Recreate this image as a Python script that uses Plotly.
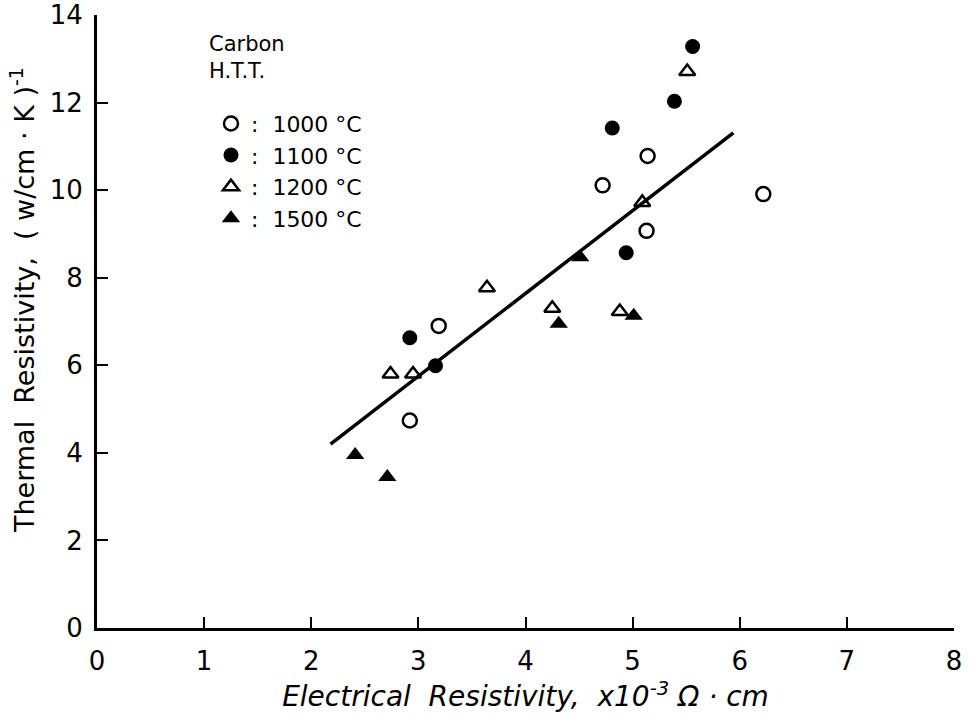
import plotly.graph_objects as go

# Data
x_1000 = [3.19, 2.92, 4.72, 5.14, 5.13, 6.22]
y_1000 = [6.90, 4.74, 10.11, 10.78, 9.07, 9.91]

x_1100 = [2.92, 3.16, 4.81, 4.94, 5.39, 5.56]
y_1100 = [6.63, 5.99, 11.42, 8.57, 12.03, 13.28]

x_1200 = [2.74, 2.95, 3.64, 4.25, 4.88, 5.09, 5.51]
y_1200 = [5.80, 5.80, 7.77, 7.30, 7.23, 9.72, 12.71]

x_1500 = [2.41, 2.71, 4.31, 4.51, 5.01]
y_1500 = [3.95, 3.45, 6.95, 8.47, 7.13]

fit_x = [2.18, 5.94]
fit_y = [4.20, 11.31]

series_names = [":  1000 °C", ":  1100 °C", ":  1200 °C", ":  1500 °C"]
x_ticks = [0, 1, 2, 3, 4, 5, 6, 7, 8]
y_ticks = [0, 2, 4, 6, 8, 10, 12, 14]

FONT = "DejaVu Sans"
fig = go.Figure()

fig.add_trace(go.Scatter(x=fit_x, y=fit_y, mode="lines",
                         line=dict(color="black", width=3.5), showlegend=False))

fig.add_trace(go.Scatter(x=x_1000, y=y_1000, mode="markers", name=series_names[0],
                         marker=dict(symbol="circle-open", size=14, color="black",
                                     line=dict(width=2.5, color="black"))))
fig.add_trace(go.Scatter(x=x_1100, y=y_1100, mode="markers", name=series_names[1],
                         marker=dict(symbol="circle", size=15, color="black")))
fig.add_trace(go.Scatter(x=x_1200, y=y_1200, mode="markers", name=series_names[2],
                         marker=dict(symbol="triangle-up-open", size=14, color="black",
                                     line=dict(width=2.5, color="black"))))
fig.add_trace(go.Scatter(x=x_1500, y=y_1500, mode="markers", name=series_names[3],
                         marker=dict(symbol="triangle-up", size=16, color="black")))

fig.add_annotation(xref="paper", yref="paper", x=0.128, y=0.9755,
                   xanchor="left", yanchor="top", align="left", showarrow=False,
                   text="Carbon<br>H.T.T.", font=dict(family=FONT, size=21, color="black"))

# y-axis title as rotated annotation
fig.add_annotation(xref="paper", yref="paper", x=-0.0875, y=0.535,
                   xanchor="center", yanchor="middle", showarrow=False, textangle=-90,
                   text="Thermal  Resistivity,  ( w/cm · K )<sup>-1</sup>",
                   font=dict(family=FONT, size=27, color="black"))

fig.update_layout(
    width=973, height=727,
    margin=dict(l=97, r=19, t=15, b=99),
    paper_bgcolor="white", plot_bgcolor="white",
    font=dict(family=FONT, size=22, color="black"),
    showlegend=True,
    legend=dict(x=0.133, y=0.857, xanchor="left", yanchor="top",
                bgcolor="rgba(0,0,0,0)", borderwidth=0,
                font=dict(size=22, family=FONT),
                itemwidth=30, tracegroupgap=0),
    xaxis=dict(range=[0, 8], tickvals=x_ticks, automargin=False,
               showline=True, linecolor="black", linewidth=3,
               ticks="inside", ticklen=11, tickwidth=2, tickcolor="black",
               showgrid=False, zeroline=False, tickfont=dict(size=26),
               ticklabelstandoff=8,
               title=dict(text="<i>Electrical  Resistivity,  x10<sup>-3</sup> Ω · cm</i>",
                          font=dict(size=28), standoff=12)),
    yaxis=dict(range=[0, 14], tickvals=y_ticks, automargin=False,
               showline=True, linecolor="black", linewidth=3,
               ticks="inside", ticklen=11, tickwidth=2, tickcolor="black",
               showgrid=False, zeroline=False, tickfont=dict(size=26),
               ticklabelstandoff=6),
)

fig.write_html("out.html", config={"displayModeBar": False},
               post_script="document.body.style.margin='0';")
